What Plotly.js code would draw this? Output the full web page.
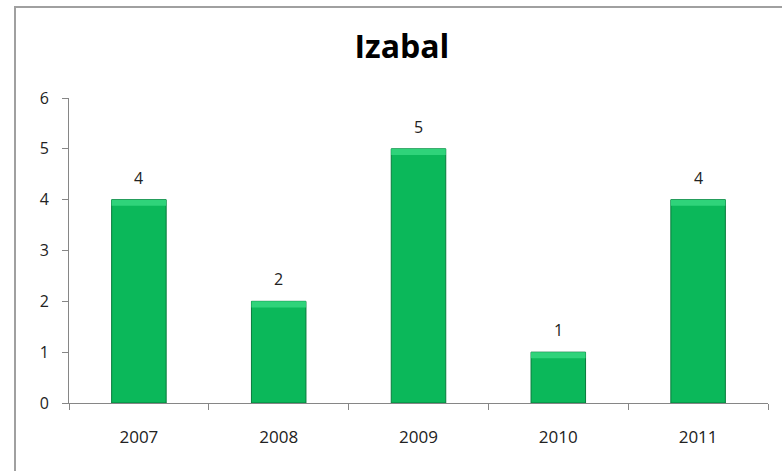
<!DOCTYPE html>
<html>
<head>
<meta charset="utf-8">
<script src="https://cdn.plot.ly/plotly-3.0.1.min.js"></script>
<style>
html,body{margin:0;padding:0;background:#fff;}
#wrap{position:relative;width:782px;height:471px;overflow:hidden;}
#chart{width:782px;height:471px;}
#frame{position:absolute;left:14px;top:6px;width:800px;height:500px;border:2px solid #a0a0a0;pointer-events:none;box-sizing:border-box;}
</style>
</head>
<body>
<div id="wrap"><div id="chart"></div><div id="frame"></div></div>
<script>
const years = ["2007", "2008", "2009", "2010", "2011"];
const counts = [4, 2, 5, 1, 4];
const yTicks = [0, 1, 2, 3, 4, 5, 6];

const FONT = "Open Sans, DejaVu Sans, sans-serif";

const trace = {
  type: "bar",
  x: years,
  y: counts,
  marker: {color: "#0bb85a", line: {color: "#077a3b", width: 1}},
  hoverinfo: "x+y"
};

// soft bevel highlight on top of each bar (derived from the data)
const bevel = 0.12;
const highlight = {
  type: "bar",
  x: years,
  y: counts.map(() => bevel),
  base: counts.map(v => v - bevel),
  marker: {color: "#2fd37a", line: {width: 0}},
  hoverinfo: "skip"
};

const annotations = years.map((yr, i) => ({
  x: i, y: counts[i], xref: "x", yref: "y",
  text: String(counts[i]), showarrow: false,
  yanchor: "bottom", yshift: 9,
  font: {family: FONT, size: 16, color: "#222"}
}));

const layout = {
  width: 782, height: 471,
  margin: {l: 69, r: 14, t: 98, b: 68},
  paper_bgcolor: "#fff", plot_bgcolor: "#fff",
  showlegend: false,
  barmode: "overlay",
  bargap: 0.61,
  title: {text: "<b>Izabal</b>", x: 0.514, xanchor: "center", y: 0.9, yanchor: "middle",
          font: {family: FONT, size: 32, color: "#000"}},
  xaxis: {
    type: "category", range: [-0.5, years.length - 0.5], tickson: "boundaries", ticks: "outside", ticklen: 6,
    tickcolor: "#868686", showline: true, linecolor: "#868686", linewidth: 1,
    showgrid: false, zeroline: false, ticklabelstandoff: 19, tickangle: 0,
    tickfont: {family: FONT, size: 17, color: "#222"}
  },
  yaxis: {
    range: [0, 6], tickvals: yTicks, ticktext: yTicks.map(String),
    ticks: "outside", ticklen: 6, tickcolor: "#868686",
    showline: true, linecolor: "#868686", linewidth: 1,
    showgrid: false, zeroline: false, ticklabelstandoff: 10,
    tickfont: {family: FONT, size: 16, color: "#222"}
  },
  annotations: annotations
};

Plotly.newPlot("chart", [trace, highlight], layout, {displayModeBar: false, staticPlot: true});
</script>
</body>
</html>
